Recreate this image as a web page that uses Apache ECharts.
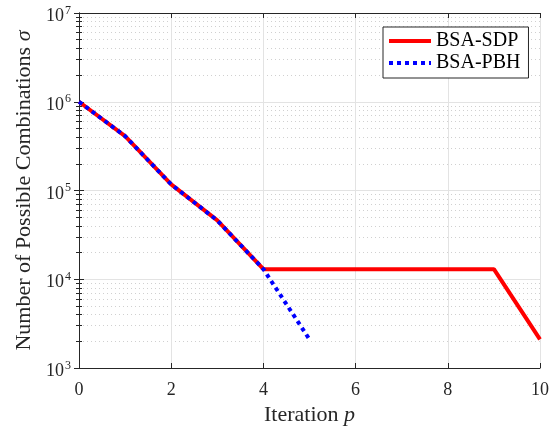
<!DOCTYPE html>
<html>
<head>
<meta charset="utf-8">
<script src="https://cdn.jsdelivr.net/npm/echarts@6/dist/echarts.min.js"></script>
<style>
  html, body { margin: 0; padding: 0; background: #fff; }
  #main { width: 558px; height: 426px; }
</style>
</head>
<body>
<div id="main"></div>
<script>
  // values
  var iterSDP = [0, 1, 2, 3, 4, 5, 6, 7, 8, 9, 10];
  var sigmaSDP = [1.0e6, 4.1e5, 1.17e5, 4.6e4, 1.3e4, 1.3e4, 1.3e4, 1.3e4, 1.3e4, 1.3e4, 2.1e3];
  var iterPBH = [0, 1, 2, 3, 4, 5];
  var sigmaPBH = [1.0e6, 4.1e5, 1.17e5, 4.6e4, 1.3e4, 2.1e3];
  var seriesNames = ["BSA-SDP", "BSA-PBH"];

  var font = "Liberation Serif";
  var ink = "#262626";

  function pairs(xs, ys) {
    return xs.map(function (x, i) { return [x, ys[i]]; });
  }

  var chartDom = document.getElementById("main");
  var myChart = echarts.init(chartDom);

  var nameRich = {
    a: { fontFamily: font, fontSize: 22, color: ink },
    i: { fontFamily: font, fontSize: 22, color: ink, fontStyle: "italic" }
  };

  var option = {
    animation: false,
    backgroundColor: "#fff",
    grid: { left: 79, right: 18, top: 13, bottom: 58, outerBoundsMode: "none" },
    legend: {
      orient: "vertical",
      left: 383,
      top: 27,
      padding: [4, 8, 5, 4],
      itemGap: 2,
      itemWidth: 42,
      itemHeight: 20,
      backgroundColor: "#fff",
      borderColor: ink,
      borderWidth: 1,
      borderRadius: 0,
      itemStyle: { opacity: 0 },
      lineStyle: { width: 4 },
      textStyle: { fontFamily: font, fontSize: 20, color: "#000", padding: [0, 0, 0, 0] },
      data: seriesNames
    },
    xAxis: [
      {
        type: "value",
        min: 0,
        max: 10,
        interval: 2,
        name: "{a|Iteration }{i|p}",
        nameLocation: "middle",
        nameGap: 27,
        nameTextStyle: { rich: nameRich },
        axisLine: { lineStyle: { color: ink, width: 1 } },
        axisTick: { inside: true, length: 5, lineStyle: { color: ink } },
        axisLabel: { fontFamily: font, fontSize: 18, color: ink, margin: 13 },
        splitLine: { show: true, lineStyle: { color: "#e3e3e3", width: 1 } }
      },
      {
        type: "value",
        position: "top",
        min: 0,
        max: 10,
        interval: 2,
        axisLine: { lineStyle: { color: ink, width: 1 } },
        axisTick: { inside: true, length: 5, lineStyle: { color: ink } },
        axisLabel: { show: false },
        splitLine: { show: false }
      }
    ],
    yAxis: [
      {
        type: "log",
        logBase: 10,
        min: 1e3,
        max: 1e7,
        name: "{a|Number of Possible Combinations }{i|σ}",
        nameLocation: "middle",
        nameGap: 42,
        nameTextStyle: { rich: nameRich },
        axisLine: { lineStyle: { color: ink, width: 1 } },
        axisTick: { inside: true, length: 5, lineStyle: { color: ink } },
        minorTick: { show: true, splitNumber: 9, length: 3, lineStyle: { color: ink } },
        axisLabel: {
          margin: 8,
          formatter: function (v) {
            return "{b|10}{s|" + Math.round(Math.log10(v)) + "}";
          },
          rich: {
            b: { fontFamily: font, fontSize: 18, color: ink, padding: [7, 0, 0, 0] },
            s: { fontFamily: font, fontSize: 12, color: ink, padding: [0, 0, 5, 1] }
          }
        },
        splitLine: { show: true, lineStyle: { color: "#e3e3e3", width: 1 } },
        minorSplitLine: { show: true, lineStyle: { color: "#d0d0d0", width: 1, type: [1, 3] } }
      },
      {
        type: "log",
        logBase: 10,
        min: 1e3,
        max: 1e7,
        position: "right",
        axisLine: { lineStyle: { color: ink, width: 1 } },
        axisTick: { inside: true, length: 5, lineStyle: { color: ink } },
        minorTick: { show: true, splitNumber: 9, length: 3, lineStyle: { color: ink } },
        axisLabel: { show: false },
        splitLine: { show: false }
      }
    ],
    series: [
      {
        name: seriesNames[0],
        type: "line",
        data: pairs(iterSDP, sigmaSDP),
        symbol: "none",
        color: "#ff0000",
        lineStyle: { color: "#ff0000", width: 4 },
        z: 3
      },
      {
        name: seriesNames[1],
        type: "line",
        data: pairs(iterPBH, sigmaPBH),
        symbol: "none",
        color: "#0000ff",
        lineStyle: { color: "#0000ff", width: 4, type: [4, 4], cap: "butt" },
        z: 4
      }
    ]
  };

  myChart.setOption(option);
</script>
</body>
</html>
